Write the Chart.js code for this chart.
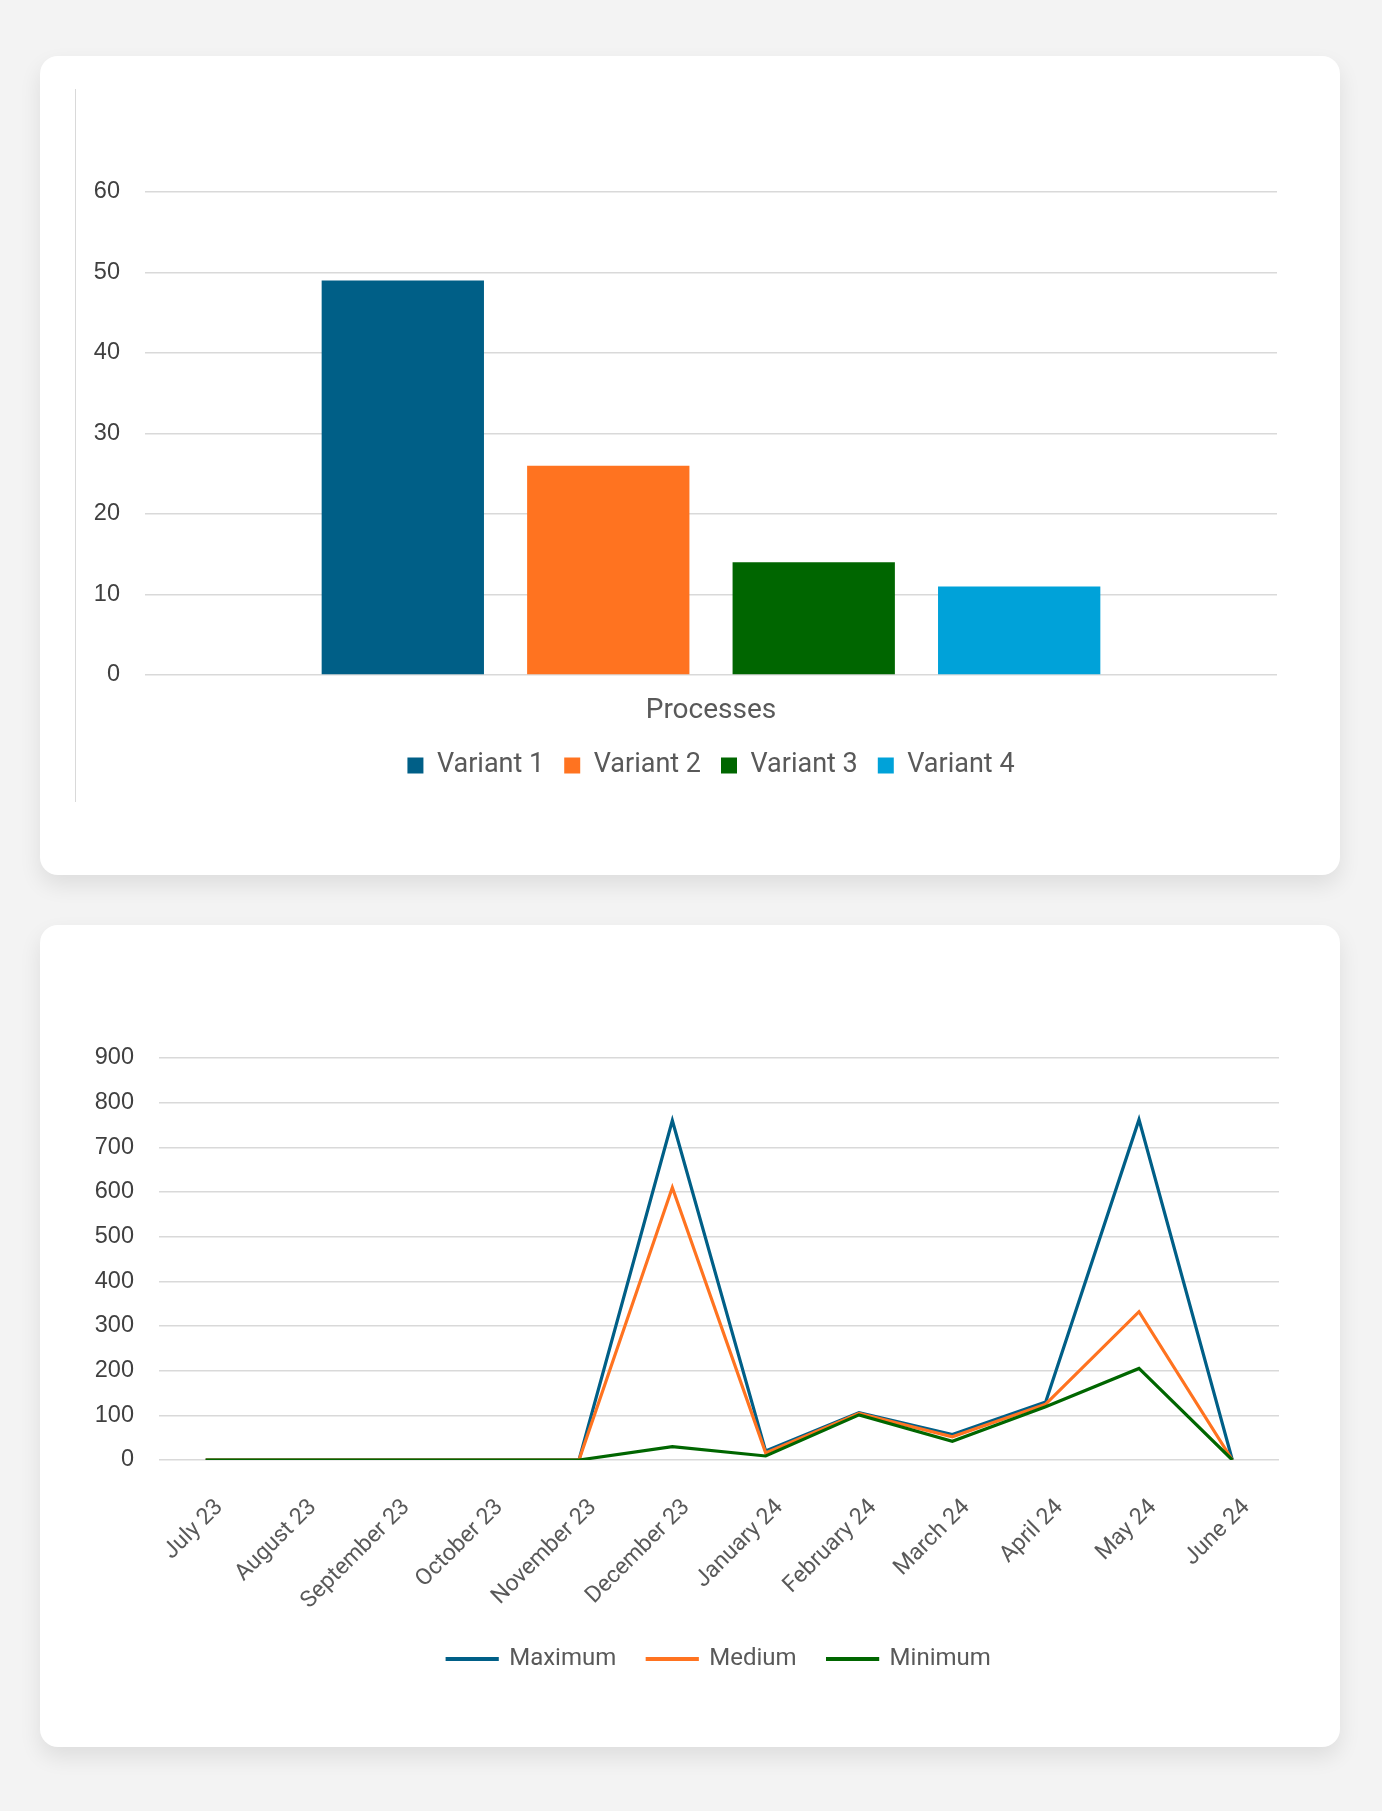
<!DOCTYPE html>
<html>
<head>
<meta charset="utf-8">
<script src="https://cdn.jsdelivr.net/npm/chart.js@4.4.1/dist/chart.umd.min.js"></script>
<style>
  body { margin: 0; background: #f3f3f3; width: 1382px; height: 1811px; position: relative; }
  .card { position: absolute; left: 40px; width: 1300px; background: #fff; border-radius: 18px;
          box-shadow: 0 10px 22px rgba(0,0,0,0.09); }
  #card1 { top: 56px; height: 819px; }
  #card2 { top: 925px; height: 822px; }
  .vline { position: absolute; left: 35px; top: 33px; width: 1px; height: 713px; background: #d9d9d9; }
  canvas { position: absolute; left: 0; top: 0; }
</style>
</head>
<body>
<div class="card" id="card1"><div class="vline"></div><canvas id="barChart" width="1300" height="819"></canvas></div>
<div class="card" id="card2"><canvas id="lineChart" width="1300" height="822"></canvas></div>
<script>
// bar chart data
const barCategories = ["Processes"];
const variantNames = ["Variant 1", "Variant 2", "Variant 3", "Variant 4"];
const variantValues = [49, 26, 14, 11];
const variantColors = ["#005f87", "#ff7320", "#006600", "#00a2d9"];

// line chart data
const months = ["July 23", "August 23", "September 23", "October 23", "November 23", "December 23",
                "January 24", "February 24", "March 24", "April 24", "May 24", "June 24"];
const maximum = [0, 0, 0, 0, 0, 760, 20, 106, 57, 130, 762, 0];
const medium = [0, 0, 0, 0, 0, 610, 16, 104, 52, 125, 332, 0];
const minimum = [0, 0, 0, 0, 0, 30, 9, 101, 42, 119, 205, 0];

const gridColor = "#d9d9d9";
const tickFont = { family: "Liberation Sans", size: 23.5 };
const labelFont = "Roboto";

const bar = new Chart(document.getElementById("barChart"), {
	type: "bar",
	data: {
		labels: barCategories,
		datasets: variantNames.map((name, i) => ({
			label: name,
			data: [variantValues[i]],
			backgroundColor: variantColors[i],
			borderWidth: 0,
			categoryPercentage: 0.726,
			barPercentage: 0.79
		}))
	},
	options: {
		responsive: false,
		animation: false,
		layout: { padding: { left: 0, right: 63, top: 136, bottom: 86 } },
		scales: {
			x: {
				grid: { display: false },
				border: { display: false },
				ticks: { color: "#595959", font: { family: labelFont, size: 28 }, padding: 11 },
				afterFit: (s) => { s.height = 57; }
			},
			y: {
				min: 0, max: 60,
				ticks: { stepSize: 10, color: "#404040", font: tickFont, padding: 25 },
				grid: { color: gridColor, lineWidth: 1.5, drawTicks: false },
				border: { display: false },
				afterFit: (s) => { s.width = 105; }
			}
		},
		plugins: {
			legend: {
				position: "bottom",
				fullSize: false,
				labels: { boxWidth: 16, boxHeight: 16, padding: 20, color: "#595959",
					font: { family: labelFont, size: 27 } }
			},
			tooltip: { enabled: false }
		}
	}
});

const lineSeries = [
	{ label: "Maximum", data: maximum, color: "#005f87", order: 2 },
	{ label: "Medium", data: medium, color: "#ff7320", order: 1 },
	{ label: "Minimum", data: minimum, color: "#006600", order: 0 }
];

const line = new Chart(document.getElementById("lineChart"), {
	type: "line",
	data: {
		labels: months,
		datasets: lineSeries.map(s => ({
			label: s.label,
			data: s.data,
			borderColor: s.color,
			backgroundColor: s.color,
			borderWidth: 3.2,
			pointRadius: 0,
			tension: 0,
			order: s.order
		}))
	},
	options: {
		responsive: false,
		animation: false,
		layout: { padding: { left: 0, right: 61, top: 133, bottom: 66 } },
		scales: {
			x: {
				offset: true,
				grid: { display: false },
				border: { display: false },
				ticks: { color: "#595959", font: { family: labelFont, size: 23 },
					minRotation: 45, maxRotation: 45, padding: 26, labelOffset: 14 },
				afterFit: (s) => { s.height = 156; }
			},
			y: {
				min: 0, max: 900,
				ticks: { stepSize: 100, color: "#404040", font: tickFont, padding: 25 },
				grid: { color: gridColor, lineWidth: 1.5, drawTicks: false },
				border: { display: false },
				afterFit: (s) => { s.width = 119; }
			}
		},
		plugins: {
			legend: {
				position: "bottom",
				fullSize: false,
				reverse: true,
				labels: { boxWidth: 50, boxHeight: 1, padding: 31, color: "#595959",
					font: { family: labelFont, size: 24 } }
			},
			tooltip: { enabled: false }
		}
	}
});
</script>
</body>
</html>
